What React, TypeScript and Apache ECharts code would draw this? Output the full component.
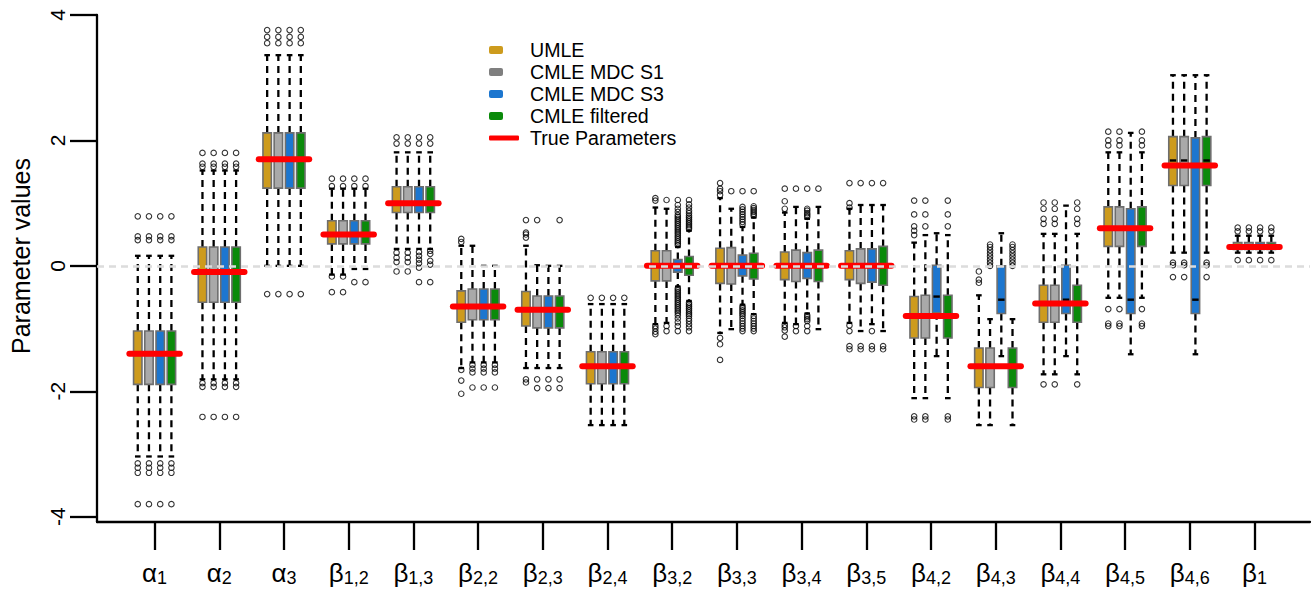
import React, { useEffect, useRef } from "react";
import * as echarts from "echarts";

const FONT = '"Liberation Sans", Arial, Helvetica, sans-serif';

// ---------- categories ----------
const labelLetters = ["α", "α", "α", "β", "β", "β", "β", "β", "β", "β", "β", "β", "β", "β", "β", "β", "β", "β"];
const labelSubs = ["1", "2", "3", "1,2", "1,3", "2,2", "2,3", "2,4", "3,2", "3,3", "3,4", "3,5", "4,2", "4,3", "4,4", "4,5", "4,6", "1"];
const yTicks = [-4, -2, 0, 2, 4];

// ---------- true parameters ----------
const trueParameters = [-1.4, -0.1, 1.7, 0.5, 1.0, -0.65, -0.7, -1.6, 0, 0, 0, 0, -0.8, -1.6, -0.6, 0.6, 1.6, 0.3];

// ---------- box stats: [lowWhisker, q1, median, q3, highWhisker] ----------
const umleStats = [
  [-3.04, -1.89, -1.42, -1.04, 0.16],
  [-1.81, -0.58, -0.1, 0.3, 1.52],
  [0.0, 1.24, 1.7, 2.12, 3.36],
  [-0.14, 0.35, 0.5, 0.72, 1.23],
  [0.27, 0.85, 1.0, 1.26, 1.81],
  [-1.63, -0.9, -0.65, -0.4, 0.32],
  [-1.63, -0.96, -0.7, -0.41, 0.32],
  [-2.54, -1.88, -1.6, -1.37, -0.61],
  [-0.93, -0.24, 0.0, 0.24, 0.93],
  [-1.07, -0.28, 0.0, 0.28, 1.08],
  [-0.91, -0.22, 0.0, 0.22, 0.85],
  [-0.91, -0.22, 0.0, 0.24, 0.91],
  [-2.11, -1.15, -0.8, -0.49, 0.37],
  [-2.54, -1.94, -1.6, -1.31, -0.47],
  [-1.73, -0.9, -0.6, -0.31, 0.51],
  [-0.51, 0.31, 0.6, 0.94, 1.81],
  [0.21, 1.28, 1.68, 2.06, 3.04],
  [0.21, 0.26, 0.31, 0.37, 0.48],
];
const umleOutliers = [
  [0.79, 0.47, 0.41, -3.15, -3.22, -3.3, -3.8],
  [1.58, 1.63, 1.8, -1.87, -1.93, -2.41],
  [3.55, 3.65, 3.76, -0.45],
  [1.27, 1.39, -0.17, -0.42],
  [1.95, 2.05, 0.21, 0.13, 0.06, -0.09],
  [0.38, 0.43, -1.66, -1.83, -2.04],
  [0.45, 0.5, 0.53, 0.73, -1.81, -1.86],
  [-0.51],
  [1.04, 1.08, -0.96, -1.0, -1.05, -1.09],
  [1.13, 1.19, 1.23, 1.32, -1.15, -1.25, -1.5],
  [0.91, 1.03, 1.23, -0.94, -0.98, -1.03, -1.13],
  [0.93, 1.0, 1.32, -0.95, -1.04, -1.28, -1.33],
  [0.49, 0.56, 0.63, 0.82, 1.04, -2.4, -2.45],
  [-0.27, -0.22, -0.09],
  [0.67, 0.75, 0.91, 1.01, -1.89],
  [1.92, 2.0, 2.14, -0.69, -0.92, -0.96],
  [0.05, 0.01, -0.18],
  [0.55, 0.61, 0.09],
];

const s1Stats = [
  [-3.04, -1.89, -1.42, -1.04, 0.16],
  [-1.81, -0.58, -0.1, 0.3, 1.52],
  [0.0, 1.24, 1.7, 2.12, 3.36],
  [-0.14, 0.35, 0.5, 0.72, 1.23],
  [0.27, 0.85, 1.0, 1.26, 1.81],
  [-1.54, -0.86, -0.65, -0.37, 0.32],
  [-1.63, -0.99, -0.7, -0.48, 0.01],
  [-2.54, -1.88, -1.6, -1.37, -0.61],
  [-0.91, -0.24, 0.0, 0.24, 0.91],
  [-1.01, -0.29, 0.0, 0.29, 0.91],
  [-0.93, -0.25, 0.0, 0.25, 0.94],
  [-1.04, -0.28, 0.0, 0.27, 0.97],
  [-2.11, -1.15, -0.8, -0.47, 0.49],
  [-2.54, -1.94, -1.6, -1.31, -0.85],
  [-1.73, -0.9, -0.6, -0.31, 0.51],
  [-0.51, 0.31, 0.6, 0.94, 1.81],
  [0.21, 1.28, 1.68, 2.06, 3.04],
  [0.21, 0.26, 0.31, 0.37, 0.48],
];
const s1Outliers = [
  [0.79, 0.47, 0.41, -3.15, -3.22, -3.3, -3.8],
  [1.58, 1.63, 1.8, -1.87, -1.93, -2.41],
  [3.55, 3.65, 3.76, -0.45],
  [1.27, 1.39, -0.17, -0.42],
  [1.95, 2.05, 0.21, 0.13, 0.06, -0.09],
  [-1.58, -1.64, -1.7, -1.94],
  [0.73, -1.81, -1.95],
  [-0.51],
  [1.05, -0.96, -1.04],
  [1.19],
  [1.23, -0.96, -1.04],
  [1.32, -1.28, -1.33],
  [0.63, 0.82, 1.04, -2.4, -2.45],
  [0.0, 0.05, 0.1, 0.15, 0.2, 0.25, 0.3, 0.34],
  [0.67, 0.75, 0.91, 1.01, -1.89],
  [1.92, 2.0, 2.14, -0.69, -0.92, -0.96],
  [0.05, 0.01, -0.18],
  [0.55, 0.61, 0.09],
];

const s3Stats = [
  [-3.04, -1.89, -1.42, -1.04, 0.16],
  [-1.81, -0.58, -0.1, 0.3, 1.52],
  [0.0, 1.24, 1.7, 2.12, 3.36],
  [-0.05, 0.35, 0.5, 0.72, 1.23],
  [0.27, 0.85, 1.0, 1.26, 1.81],
  [-1.54, -0.86, -0.65, -0.37, 0.0],
  [-1.63, -0.99, -0.7, -0.48, 0.0],
  [-2.54, -1.88, -1.6, -1.37, -0.61],
  [-0.33, -0.1, 0.0, 0.1, 0.3],
  [-0.62, -0.16, 0.0, 0.17, 0.62],
  [-0.76, -0.2, 0.0, 0.21, 0.75],
  [-0.93, -0.26, 0.0, 0.27, 0.97],
  [-1.44, -0.75, -0.49, 0.01, 0.52],
  [-1.44, -0.76, -0.54, 0.0, 0.52],
  [-1.44, -0.76, -0.54, 0.01, 0.96],
  [-1.41, -0.76, -0.54, 0.91, 2.12],
  [-1.41, -0.76, -0.54, 2.04, 3.04],
  [0.21, 0.26, 0.31, 0.37, 0.48],
];
const s3Outliers = [
  [0.79, 0.47, 0.41, -3.15, -3.22, -3.3, -3.8],
  [1.58, 1.63, 1.8, -1.87, -1.93, -2.41],
  [3.55, 3.65, 3.76, -0.45],
  [1.27, 1.39, -0.26],
  [1.95, 2.05, 0.22, 0.16, 0.1, 0.04, -0.03, -0.26],
  [-1.58, -1.64, -1.7, -1.94],
  [-1.81, -1.95],
  [-0.51],
  [0.33, 0.36, 0.39, 0.42, 0.45, 0.48, 0.51, 0.54, 0.57, 0.6, 0.63, 0.66, 0.69, 0.72, 0.75, 0.78, 0.81, 0.86, 0.91, 0.97, 1.05,
   -0.36, -0.39, -0.42, -0.45, -0.48, -0.51, -0.54, -0.57, -0.6, -0.63, -0.66, -0.69, -0.72, -0.75, -0.79, -0.84, -0.9, -0.96, -1.04],
  [0.66, 0.7, 0.74, 0.78, 0.82, 0.86, 0.9, 0.94, 1.19,
   -0.65, -0.68, -0.71, -0.74, -0.77, -0.8, -0.84, -0.88, -0.92, -0.96, -1.0, -1.04],
  [0.78, 0.81, 0.84, 0.88, 0.91, 1.23, -0.79, -0.82, -0.85, -0.88, -0.96, -1.04],
  [1.32, -1.04, -1.28, -1.33],
  [],
  [],
  [],
  [],
  [],
  [0.55, 0.61, 0.09],
];

const filteredStats = [
  [-3.04, -1.89, -1.42, -1.04, 0.16],
  [-1.81, -0.58, -0.1, 0.3, 1.52],
  [0.0, 1.24, 1.7, 2.12, 3.36],
  [-0.05, 0.35, 0.5, 0.72, 1.23],
  [0.27, 0.85, 1.0, 1.26, 1.81],
  [-1.54, -0.86, -0.65, -0.37, 0.0],
  [-1.63, -0.99, -0.7, -0.48, 0.0],
  [-2.54, -1.88, -1.6, -1.37, -0.61],
  [-0.56, -0.15, 0.0, 0.15, 0.56],
  [-0.77, -0.21, 0.0, 0.2, 0.77],
  [-1.01, -0.25, 0.0, 0.25, 0.94],
  [-1.04, -0.31, 0.0, 0.31, 0.97],
  [-2.11, -1.15, -0.8, -0.47, 0.49],
  [-2.54, -1.94, -1.6, -1.31, -0.85],
  [-1.73, -0.9, -0.6, -0.31, 0.51],
  [-0.51, 0.31, 0.6, 0.94, 1.81],
  [0.21, 1.28, 1.68, 2.06, 3.04],
  [0.21, 0.26, 0.31, 0.37, 0.48],
];
const filteredOutliers = [
  [0.79, 0.47, 0.41, -3.15, -3.22, -3.3, -3.8],
  [1.58, 1.63, 1.8, -1.87, -1.93, -2.41],
  [3.55, 3.65, 3.76, -0.45],
  [1.27, 1.39, -0.26],
  [1.95, 2.05, 0.24, 0.19, 0.08, 0.02, -0.26],
  [-1.58, -1.64, -1.7, -1.94],
  [0.73, -1.81, -1.95],
  [-0.51],
  [0.59, 0.62, 0.65, 0.68, 0.71, 0.74, 0.77, 0.8, 0.84, 0.88, 0.93, 0.98, 1.05,
   -0.59, -0.62, -0.65, -0.68, -0.71, -0.74, -0.77, -0.8, -0.84, -0.88, -0.93, -0.98, -1.04],
  [0.8, 0.83, 0.86, 0.89, 0.92, 0.95, 1.19, -0.8, -0.84, -0.88, -0.92, -0.96, -1.0, -1.04],
  [1.23],
  [1.32, -1.28, -1.33],
  [0.63, 0.82, 1.04, -2.4, -2.45],
  [0.0, 0.05, 0.1, 0.15, 0.2, 0.25, 0.3, 0.34],
  [0.67, 0.75, 0.91, 1.01, -1.89],
  [1.92, 2.0, 2.14, -0.69, -0.92, -0.96],
  [0.05, 0.01, -0.18],
  [0.55, 0.61, 0.09],
];

const seriesNames = ["UMLE", "CMLE MDC S1", "CMLE MDC S3", "CMLE filtered"];
const trueName = "True Parameters";

// ---------- styling ----------
const boxFills = ["#CD9B1D", "#A9A9A9", "#1C76CF", "#0A8A0A"];
const legendColors = ["#CD9B1D", "#7F7F7F", "#1C76CF", "#0A8A0A"];
const legendCentersY = [49, 71, 93, 115, 137];
const OFFSETS = [-0.26, -0.087, 0.087, 0.26];
const BOX_W = 0.13;
const WHISKER_W = 2.3;

function makeBoxRenderer(k: number, fill: string) {
  return (params: any, api: any) => {
    const x = api.value(0) + OFFSETS[k];
    const pLow = api.coord([x, api.value(1)]);
    const pQ1 = api.coord([x, api.value(2)]);
    const pMed = api.coord([x, api.value(3)]);
    const pQ3 = api.coord([x, api.value(4)]);
    const pHigh = api.coord([x, api.value(5)]);
    const w = api.size([BOX_W, 0])[0];
    const cx = pLow[0];
    const cap = 2.8;
    const dashed = { stroke: "#000", lineWidth: WHISKER_W, lineDash: [7, 5], fill: null };
    const solid = { stroke: "#000", lineWidth: WHISKER_W, fill: null };
    return {
      type: "group",
      children: [
        { type: "line", shape: { x1: cx, y1: pQ3[1], x2: cx, y2: pHigh[1] }, style: dashed },
        { type: "line", shape: { x1: cx, y1: pQ1[1], x2: cx, y2: pLow[1] }, style: dashed },
        { type: "line", shape: { x1: cx - cap, y1: pHigh[1], x2: cx + cap, y2: pHigh[1] }, style: solid },
        { type: "line", shape: { x1: cx - cap, y1: pLow[1], x2: cx + cap, y2: pLow[1] }, style: solid },
        {
          type: "rect",
          shape: { x: cx - w / 2, y: pQ3[1], width: w, height: pQ1[1] - pQ3[1] },
          style: { fill, stroke: "#6E6E6E", lineWidth: 1.6 },
        },
        {
          type: "line",
          shape: { x1: cx - w / 2 + 1, y1: pMed[1], x2: cx + w / 2 - 1, y2: pMed[1] },
          style: { stroke: "#000", lineWidth: 2.4 },
        },
      ],
    };
  };
}

function renderTrue(params: any, api: any) {
  const p = api.coord([api.value(0), api.value(1)]);
  const half = api.size([0.39, 0])[0];
  return {
    type: "line",
    shape: { x1: p[0] - half, y1: p[1], x2: p[0] + half, y2: p[1] },
    style: { stroke: "#FF0000", lineWidth: 6, lineCap: "round" },
  };
}

const tickPositions = labelSubs.map((_, i) => i + 1);

function legendFor(name: string, color: string, centerY: number, isLine: boolean) {
  return {
    data: [{ name, icon: "roundRect", itemStyle: { color } }],
    orient: "vertical",
    left: 489,
    top: centerY - 9,
    padding: 0,
    itemWidth: isLine ? 30 : 14,
    itemHeight: isLine ? 5 : 8,
    selectedMode: false,
    textStyle: {
      fontSize: 19.6,
      fontFamily: FONT,
      color: "#000",
      lineHeight: 18,
      padding: [0, 0, 0, isLine ? 6 : 22],
    },
  };
}

function buildOption() {
  const allStats = [umleStats, s1Stats, s3Stats, filteredStats];
  const allOutliers = [umleOutliers, s1Outliers, s3Outliers, filteredOutliers];
  const series: any[] = [];

  series.push({
    type: "line",
    name: "zero",
    data: [],
    z: 1,
    silent: true,
    markLine: {
      silent: true,
      symbol: ["none", "none"],
      label: { show: false },
      lineStyle: { color: "#DCDCDC", width: 2.5, type: [7, 5] },
      data: [{ yAxis: 0 }],
    },
  });

  seriesNames.forEach((name, k) => {
    series.push({
      type: "custom",
      name,
      z: 2,
      silent: true,
      itemStyle: { color: legendColors[k] },
      data: allStats[k].map((s, i) => [i + 1, ...s]),
      encode: { x: 0, y: [1, 2, 3, 4, 5] },
      renderItem: makeBoxRenderer(k, boxFills[k]),
    });
    const pts: number[][] = [];
    allOutliers[k].forEach((vals, i) => {
      vals.forEach((v) => pts.push([i + 1 + OFFSETS[k], v]));
    });
    series.push({
      type: "scatter",
      name: name + " outliers",
      z: 3,
      silent: true,
      symbol: "circle",
      symbolSize: 5.5,
      itemStyle: { color: "rgba(0,0,0,0)", borderColor: "#000", borderWidth: 1.1 },
      data: pts,
    });
  });

  series.push({
    type: "custom",
    name: trueName,
    z: 4,
    silent: true,
    itemStyle: { color: "#FF0000" },
    data: trueParameters.map((v, i) => [i + 1, v]),
    encode: { x: 0, y: 1 },
    renderItem: renderTrue,
  });

  const legends = seriesNames.map((n, k) => legendFor(n, legendColors[k], legendCentersY[k], false));
  legends.push(legendFor(trueName, "#FF0000", legendCentersY[4], true));

  return {
    animation: false,
    backgroundColor: "#fff",
    textStyle: { fontFamily: FONT },
    grid: { left: 97, right: 2, top: 15, bottom: 68, containLabel: false },
    xAxis: {
      type: "value",
      min: 0.11,
      max: 18.858,
      axisLine: { show: true, onZero: false, lineStyle: { color: "#000", width: 2.3 } },
      axisTick: { show: true, length: 28, customValues: tickPositions, lineStyle: { color: "#000", width: 2.3 } },
      splitLine: { show: false },
      axisLabel: {
        customValues: tickPositions,
        margin: 37,
        color: "#000",
        formatter: (v: number) => {
          const i = Math.round(v) - 1;
          return `{g|${labelLetters[i]}}{s|${labelSubs[i]}}`;
        },
        rich: {
          g: { fontSize: 26, fontFamily: FONT, color: "#000", lineHeight: 28 },
          s: { fontSize: 18, fontFamily: FONT, color: "#000", lineHeight: 17, verticalAlign: "bottom" },
        },
      },
    },
    yAxis: {
      type: "value",
      min: -4.085,
      max: 4,
      axisLine: { show: true, onZero: false, lineStyle: { color: "#000", width: 2.3 } },
      axisTick: { show: true, length: 27, customValues: yTicks, lineStyle: { color: "#000", width: 2.3 } },
      splitLine: { show: false },
      axisLabel: {
        customValues: yTicks,
        rotate: 90,
        margin: 29,
        fontSize: 21,
        fontFamily: FONT,
        color: "#000",
      },
    },
    legend: legends,
    graphic: [
      {
        type: "text",
        x: 21,
        y: 256,
        rotation: Math.PI / 2,
        style: {
          text: "Parameter values",
          font: `25px ${FONT}`,
          fill: "#000",
          align: "center",
          verticalAlign: "middle",
        },
      },
    ],
    series,
  };
}

export default function App() {
  const ref = useRef<HTMLDivElement>(null);
  useEffect(() => {
    if (!ref.current) return;
    const chart = echarts.init(ref.current, null, { renderer: "svg" });
    chart.setOption(buildOption() as any);
    return () => chart.dispose();
  }, []);
  return (
    <div
      ref={ref}
      style={{ position: "absolute", left: 0, top: 0, width: 1312, height: 590, background: "#fff" }}
    />
  );
}
